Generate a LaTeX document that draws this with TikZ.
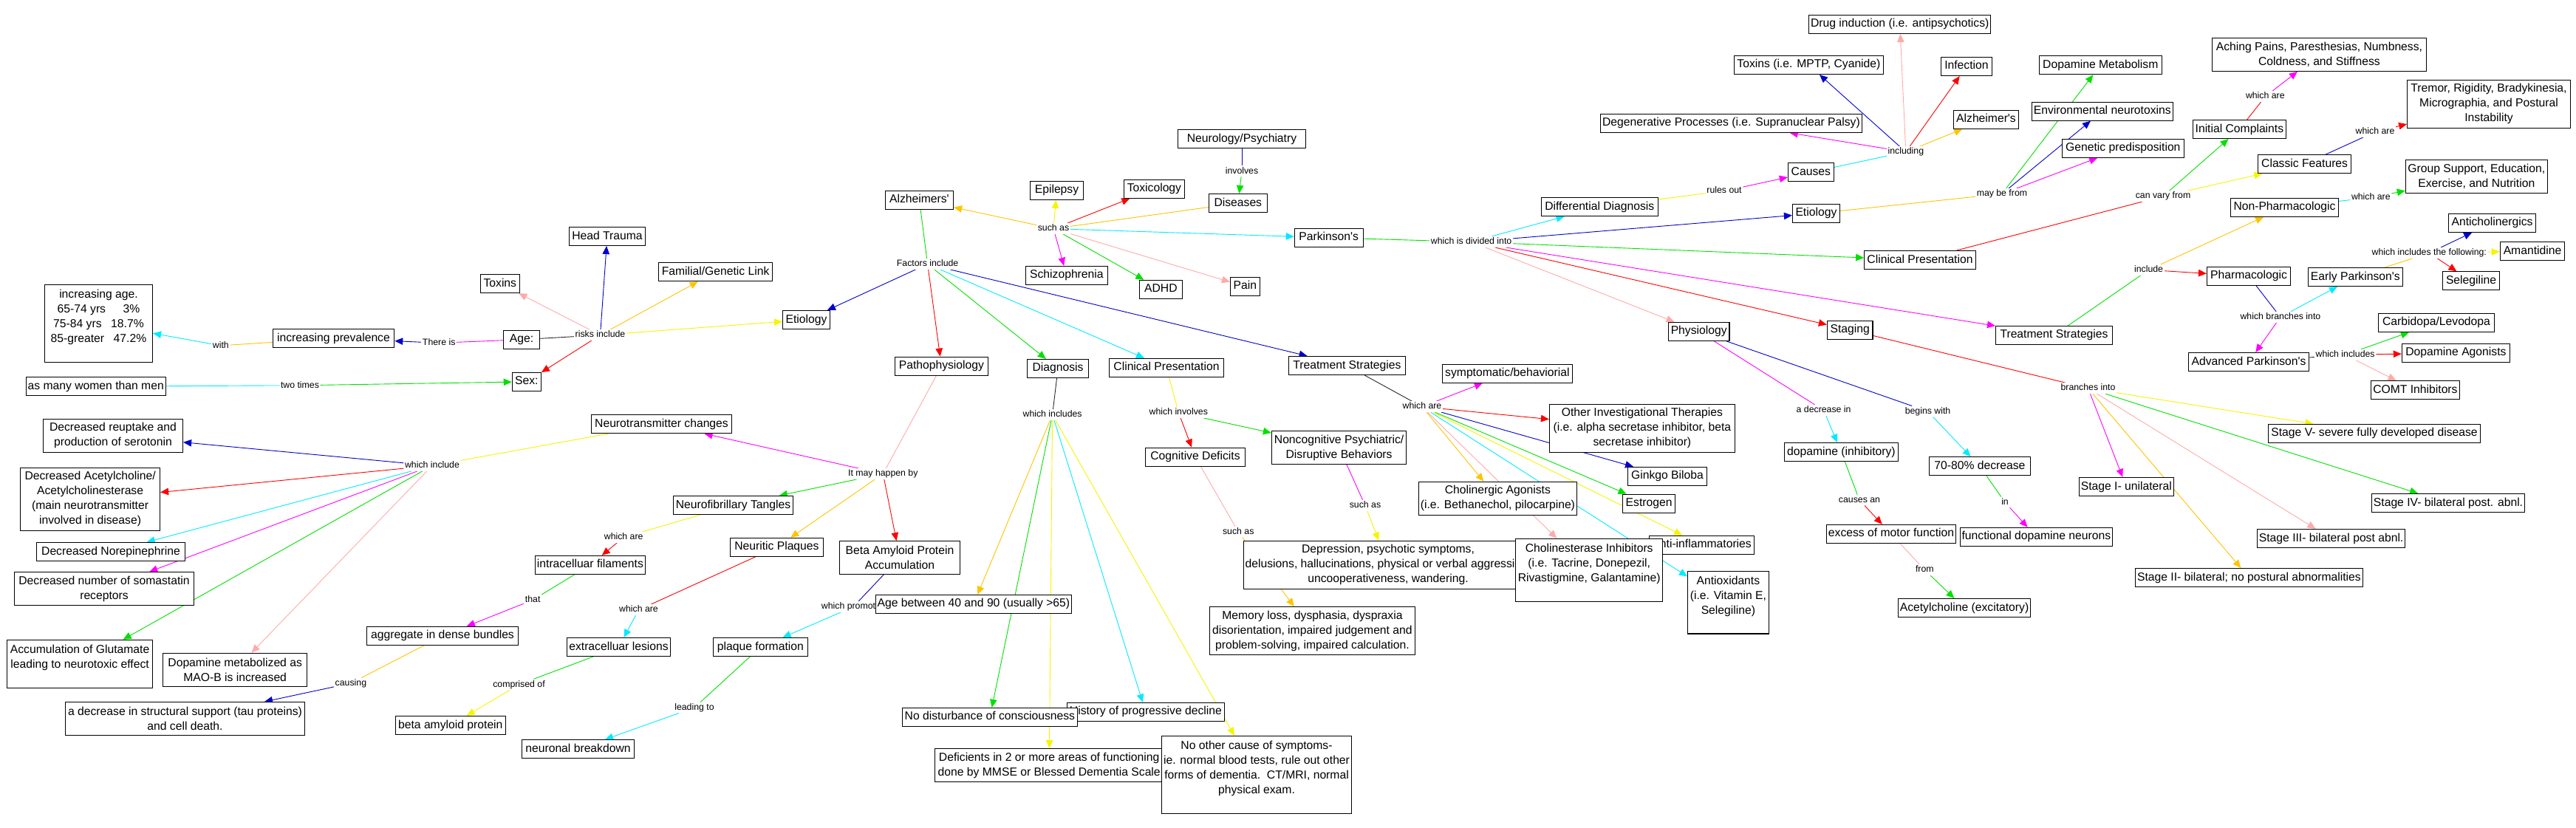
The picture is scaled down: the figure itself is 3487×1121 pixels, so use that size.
\documentclass[tikz,border=0pt]{standalone}
\usepackage{fontspec}
\newfontfamily\mapfont{Liberation Sans}
\usetikzlibrary{arrows.meta}
\pgfdeclarelayer{bg}
\pgfdeclarelayer{lines}
\pgfsetlayers{bg,lines,main}
\definecolor{cred}{RGB}{255,0,0}
\definecolor{cblue}{RGB}{0,0,205}
\definecolor{cgreen}{RGB}{0,225,0}
\definecolor{ccyan}{RGB}{0,235,255}
\definecolor{cmag}{RGB}{255,0,255}
\definecolor{cyel}{RGB}{245,245,0}
\definecolor{corg}{RGB}{255,195,0}
\definecolor{cpink}{RGB}{255,170,170}
\definecolor{cblk}{RGB}{40,40,40}
\newcommand\ap{\textquotesingle}
\tikzset{
 cpt/.style={draw=black, line width=1.1pt, fill=white, font={\mapfont\fontsize{15.7}{20}\selectfont}, align=center, inner xsep=2.5pt, inner ysep=1pt, minimum height=25pt},
 one/.style={text height=11.5pt, text depth=3.5pt},
 bw/.style={minimum width=#1pt},
 bh/.style={minimum height=#1pt},
 lnk/.style={font={\mapfont\fontsize{12.3}{14}\selectfont}, inner sep=1.5pt, fill=white, text height=9pt, text depth=2.5pt},
 con/.style={line width=0.9pt},
 arr/.style={line width=0.9pt, -{Triangle[length=11pt,width=9.5pt]}},
}
\begin{document}
\begin{tikzpicture}[x=1pt,y=-1pt]
\useasboundingbox (0,0) rectangle (3487,1121);
\begin{pgfonlayer}{bg}\fill[white] (0,0) rectangle (3487,1121);\end{pgfonlayer}

% ---------- Alzheimer concepts ----------
\node[cpt,bw=146.1,bh=105] (incage) at (133.5,437.9) {increasing age.\\65-74 yrs\hspace{1.5em}3\%\\75-84 yrs\hspace{0.8em}18.7\%\\85-greater\hspace{0.8em}47.2\%\\\mbox{}};
\node[cpt,one,bw=164.5] (incprev) at (451.5,458) {increasing prevalence};
\node[cpt,one,bw=186.7] (women) at (129.7,523.2) {as many women than men};
\node[cpt,one,bw=52.8] (toxins) at (676.8,384.1) {Toxins};
\node[cpt,one,bw=102.9] (headtr) at (822,320) {Head Trauma};
\node[cpt,one,bw=154.2] (famil) at (968.6,368.2) {Familial/Genetic Link};
\node[cpt,one,bw=49.4] (age) at (706,459.8) {Age:};
\node[cpt,one,bw=39] (sex) at (712.8,516.8) {Sex:};
\node[cpt,one,bw=63.9] (etioA) at (1091.5,433) {Etiology};
\node[cpt,one,bw=92.2] (alz) at (1244.4,270.7) {Alzheimers\ap};
\node[cpt,one,bw=71.9] (epil) at (1430.5,257.9) {Epilepsy};
\node[cpt,one,bw=82.3] (toxic) at (1562.4,255.7) {Toxicology};
\node[cpt,one,bw=173.3] (neuro) at (1681,188) {Neurology/Psychiatry};
\node[cpt,one,bw=78.8] (dis) at (1675.8,275) {Diseases};
\node[cpt,one,bw=111] (schiz) at (1443.9,372.9) {Schizophrenia};
\node[cpt,one,bw=58.1] (adhd) at (1571.4,391.8) {ADHD};
\node[cpt,one,bw=39.8] (pain) at (1685.4,387.9) {Pain};
\node[cpt,one,bw=93] (park) at (1798.7,321.8) {Parkinson\ap s};
\node[cpt,one,bw=126.2] (patho) at (1274.4,495.7) {Pathophysiology};
\node[cpt,one,bw=83.4] (diag) at (1432.1,498.9) {Diagnosis};
\node[cpt,one,bw=155.4] (clinA) at (1579,497.9) {Clinical Presentation};
\node[cpt,one,bw=158.4] (treatA) at (1823.4,495) {Treatment Strategies};

\node[cpt,one,bw=190.2] (ntc) at (895.5,574.1) {Neurotransmitter changes};
\node[cpt,one,bw=162.2] (nft) at (992.5,684) {Neurofibrillary Tangles};
\node[cpt,one,bw=126.3] (np) at (1051.4,740.8) {Neuritic Plaques};
\node[cpt,one,bw=149.2] (intra) at (798.9,764.9) {intracelluar filaments};
\node[cpt,one,bw=205.4] (aggr) at (599,860.9) {aggregate in dense bundles};
\node[cpt,one,bw=140.1] (extra) at (837.5,876.1) {extracelluar lesions};
\node[cpt,one,bw=128.2] (plaque) at (1029.4,876.1) {plaque formation};
\node[cpt,one,bw=149.5] (betaprot) at (609.8,982) {beta amyloid protein};
\node[cpt,one,bw=152.3] (neurbr) at (782.5,1014.1) {neuronal breakdown};
\node[cpt,bw=163.3,bh=44.4] (beta) at (1218,754.9) {Beta Amyloid Protein\\Accumulation};

\node[cpt,bw=189.1,bh=44.9] (decser) at (153,589.9) {Decreased reuptake and\\production of serotonin};
\node[cpt,bw=189,bh=84.8] (decach) at (122.1,675.8) {Decreased Acetylcholine/\\Acetylcholinesterase\\(main neurotransmitter\\involved in disease)};
\node[cpt,one,bw=201.2] (decnor) at (150,747) {Decreased Norepinephrine};
\node[cpt,bw=243,bh=44.9] (decsom) at (141,797) {Decreased number of somastatin\\receptors};
\node[cpt,bw=197,bh=64.9] (glut) at (108.1,898.8) {Accumulation of Glutamate\\leading to neurotoxic effect\\\mbox{}};
\node[cpt,bw=194.8,bh=45.2] (dopmet) at (318.2,906.8) {Dopamine metabolized as\\MAO-B is increased};
\node[cpt,bw=324.1,bh=44.9] (decstr) at (250.5,973) {a decrease in structural support (tau proteins)\\and cell death.};

% labels under boxes first
\node[lnk] (promotes) at (1155,821.6) {which promotes};
\node[cpt,one,bw=265.1] (ageb) at (1317.9,817.9) {Age between 40 and 90 (usually >65)};
\node[cpt,one,bw=213.1] (hist) at (1550.9,963.9) {History of progressive decline};
\node[cpt,one,bw=237.3] (nodist) at (1339.9,970.9) {No disturbance of consciousness};
\node[cpt,bw=310,bh=44.9] (defic) at (1420.2,1036) {Deficients in 2 or more areas of functioning\\done by MMSE or Blessed Dementia Scale};
\node[cpt,bw=257,bh=104.9] (noother) at (1701,1049) {No other cause of symptoms-\\ie. normal blood tests, rule out other\\forms of dementia.\ \ CT/MRI, normal\\physical exam.\\\mbox{}};
\node[cpt,one,bw=135.5] (cogdef) at (1618,618.7) {Cognitive Deficits};
\node[cpt,bw=182.4,bh=44.5] (noncog) at (1812.6,606) {Noncognitive Psychiatric/\\Disruptive Behaviors};
\node[cpt,bw=391,bh=64.9] (depr) at (1879,764.7) {Depression, psychotic symptoms,\\delusions, hallucinations, physical or verbal aggression,\\uncooperativeness, wandering.};
\node[cpt,bw=277.8,bh=64.8] (memory) at (1776.4,854) {Memory loss, dysphasia, dyspraxia\\disorientation, impaired judgement and\\problem-solving, impaired calculation.};
\node[cpt,one,bw=176] (symp) at (2040.4,505.7) {symptomatic/behaviorial};
\node[cpt,bw=250.9,bh=64.9] (other) at (2222.9,579.9) {Other Investigational Therapies\\(i.e. alpha secretase inhibitor, beta\\secretase inhibitor)};
\node[cpt,one,bw=107.1] (ginkgo) at (2257,644.9) {Ginkgo Biloba};
\node[cpt,bw=214.3,bh=45.2] (cholag) at (2027.4,674.9) {Cholinergic Agonists\\(i.e. Bethanechol, pilocarpine)};
\node[cpt,one,bw=71.2] (estro) at (2232.1,681.7) {Estrogen};
\node[cpt,one,bw=142.2] (antiinf) at (2303.6,737.7) {Anti-inflammatories};
\node[cpt,bw=198.6,bh=84.9] (chol) at (2151.2,771.7) {Cholinesterase Inhibitors\\(i.e. Tacrine, Donepezil,\\Rivastigmine, Galantamine)\\\mbox{}};
\node[cpt,bw=109.7,bh=84.5] (antiox) at (2339.4,815.7) {Antioxidants\\(i.e. Vitamin E,\\Selegiline)\\\mbox{}};

% ---------- Parkinson concepts ----------
\node[cpt,one,bw=158] (diffdx) at (2165.3,280) {Differential Diagnosis};
\node[cpt,one,bw=82.5] (physio) at (2299.7,448.9) {Physiology};
\node[cpt,one,bw=354.2] (degen) at (2343.4,166.8) {Degenerative Processes (i.e. Supranuclear Palsy)};
\node[cpt,one,bw=244.9] (drug) at (2571.7,33) {Drug induction (i.e. antipsychotics)};
\node[cpt,one,bw=201.6] (toxP) at (2448.4,88) {Toxins (i.e. MPTP, Cyanide)};
\node[cpt,one,bw=69.2] (infect) at (2661.9,90) {Infection};
\node[cpt,one,bw=88] (alzP) at (2688.5,161.8) {Alzheimer\ap s};
\node[cpt,one,bw=61.9] (causes) at (2451.3,233.2) {Causes};
\node[cpt,one,bw=63.9] (etioP) at (2458.4,288.9) {Etiology};
\node[cpt,one,bw=165.8] (dopmetab) at (2843.3,88.2) {Dopamine Metabolism};
\node[cpt,one,bw=189] (envneuro) at (2845.8,150.7) {Environmental neurotoxins};
\node[cpt,one,bw=164.8] (genpre) at (2873.8,200.7) {Genetic predisposition};
\node[cpt,one,bw=150.7] (clinP) at (2599,352) {Clinical Presentation};
\node[cpt,one,bw=61.6] (staging) at (2504.2,446.8) {Staging};
\node[cpt,one,bw=158] (treatP) at (2780.5,453.9) {Treatment Strategies};
\node[cpt,bw=290.1,bh=44.6] (aching) at (3139.4,74.1) {Aching Pains, Paresthesias, Numbness,\\Coldness, and Stiffness};
\node[cpt,one,bw=126.1] (initc) at (3031.4,175) {Initial Complaints};
\node[cpt,bw=220.8,bh=65.4] (tremor) at (3369,140.9) {Tremor, Rigidity, Bradykinesia,\\Micrographia, and Postural\\Instability};
\node[cpt,one,bw=125.6] (classic) at (3119.6,222.1) {Classic Features};
\node[cpt,bw=191.9,bh=44.6] (group) at (3352.3,239.1) {Group Support, Education,\\Exercise, and Nutrition};
\node[cpt,one,bw=145.8] (nonph) at (3092.4,280.7) {Non-Pharmacologic};
\node[cpt,one,bw=118] (antich) at (3373.5,301.8) {Anticholinergics};
\node[cpt,one,bw=87.6] (amant) at (3428,340) {Amantidine};
\node[cpt,one,bw=113] (pharm) at (3044,373.9) {Pharmacologic};
\node[cpt,one,bw=127.6] (early) at (3188.3,375) {Early Parkinson\ap s};
\node[cpt,one,bw=76.9] (seleg) at (3345,380.4) {Selegiline};
\node[cpt,one,bw=157.3] (carbi) at (3298,436.8) {Carbidopa/Levodopa};
\node[cpt,one,bw=163.4] (adv) at (3044,490) {Advanced Parkinson\ap s};
\node[cpt,one,bw=146.2] (dopag) at (3324.4,477.9) {Dopamine Agonists};
\node[cpt,one,bw=120] (comt) at (3269.4,528.2) {COMT Inhibitors};
\node[cpt,one,bw=154.2] (dopinh) at (2492.4,612) {dopamine (inhibitory)};
\node[cpt,one,bw=137.4] (dec7080) at (2679.9,631.2) {70-80\% decrease};
\node[cpt,one,bw=175.2] (excess) at (2560,722.9) {excess of motor function};
\node[cpt,one,bw=206.2] (funcdop) at (2756.4,726.9) {functional dopamine neurons};
\node[cpt,one,bw=179.1] (acetyl) at (2659,823.1) {Acetylcholine (excitatory)};
\node[cpt,one,bw=127.8] (st1) at (2878.3,659) {Stage I- unilateral};
\node[cpt,one,bw=305.8] (st2) at (3044.4,782) {Stage II- bilateral; no postural abnormalities};
\node[cpt,one,bw=198.3] (st3) at (3155.6,729) {Stage III- bilateral post abnl.};
\node[cpt,one,bw=207.5] (st4) at (3314,681) {Stage IV- bilateral post. abnl.};
\node[cpt,one,bw=287] (st5) at (3214,586.9) {Stage V- severe fully developed disease};

% ---------- linking phrases ----------
\node[lnk] (with) at (298.9,467.9) {with};
\node[lnk] (there) at (594.2,464.3) {There is};
\node[lnk] (twotimes) at (406,521.8) {two times};
\node[lnk] (risks) at (812.5,453.6) {risks include};
\node[lnk] (factors) at (1255.6,357.5) {Factors include};
\node[lnk] (suchas1) at (1426,309.6) {such as};
\node[lnk] (involves) at (1681,231.8) {involves};
\node[lnk] (whichinc1) at (1424.6,561.5) {which includes};
\node[lnk] (whichinv) at (1595.3,558.5) {which involves};
\node[lnk] (mayhappen) at (1195.3,641.5) {It may happen by};
\node[lnk] (whinclude) at (585,630.4) {which include};
\node[lnk] (wanft) at (844.2,727.5) {which are};
\node[lnk] (that) at (721.2,812.3) {that};
\node[lnk] (wanp) at (864.5,825.7) {which are};
\node[lnk] (comprised) at (702.5,926.8) {comprised of};
\node[lnk] (leading) at (940,958) {leading to};
\node[lnk] (causing) at (474.9,925) {causing};
\node[lnk] (suchas2) at (1676.2,720.1) {such as};
\node[lnk] (suchas3) at (1848,684.5) {such as};
\node[lnk] (watr) at (1925,550.7) {which are};
\node[lnk] (divided) at (1991.6,327.5) {which is divided into};
\node[lnk] (rulesout) at (2334,258.6) {rules out};
\node[lnk] (including) at (2579.8,205.7) {including};
\node[lnk] (maybefrom) at (2709.9,262.5) {may be from};
\node[lnk] (canvary) at (2928,265.7) {can vary from};
\node[lnk] (includeP) at (2908.5,365.4) {include};
\node[lnk] (branches) at (2826.5,525.7) {branches into};
\node[lnk] (adecr) at (2468.6,555.5) {a decrease in};
\node[lnk] (begins) at (2609.5,557) {begins with};
\node[lnk] (causesan) at (2517,677.1) {causes an};
\node[lnk] (in) at (2714,680) {in};
\node[lnk] (from) at (2605.3,771.6) {from};
\node[lnk] (wa1) at (3066.3,130.7) {which are};
\node[lnk] (wa2) at (3215,178.6) {which are};
\node[lnk] (wa3) at (3209.3,267.5) {which are};
\node[lnk] (wif) at (3288.3,342.5) {which includes the following:};
\node[lnk] (wbi) at (3086.9,429.3) {which branches into};
\node[lnk] (wi2) at (3174.6,480.4) {which includes};

% ---------- connectors ----------
\begin{pgfonlayer}{lines}
\draw[con,cblk] (age) -- (risks);
\draw[arr,cpink] (risks) -- (toxins);
\draw[arr,cblue] (risks) -- (headtr);
\draw[arr,corg] (risks) -- (famil);
\draw[arr,cyel] (risks) -- (etioA);
\draw[arr,cred] (risks) -- (sex);
\draw[con,cmag] (age) -- (there);
\draw[arr,cblue] (there) -- (incprev);
\draw[con,corg] (incprev) -- (with);
\draw[arr,ccyan] (with) -- (incage);
\draw[con,ccyan] (women) -- (twotimes);
\draw[arr,cgreen] (twotimes) -- (sex);

\draw[con,cgreen] (alz) -- (factors);
\draw[arr,cblue] (factors) -- (etioA);
\draw[arr,cred] (factors) -- (patho);
\draw[arr,cgreen] (factors) -- (diag);
\draw[arr,ccyan] (factors) -- (clinA);
\draw[arr,cblue] (factors) -- (treatA);

\draw[con,cblue] (neuro) -- (involves);
\draw[arr,cgreen] (involves) -- (dis);
\draw[con,corg] (dis) -- (suchas1);
\draw[arr,corg] (suchas1) -- (alz);
\draw[arr,cyel] (suchas1) -- (epil);
\draw[arr,cred] (suchas1) -- (toxic);
\draw[arr,ccyan] (suchas1) -- (park);
\draw[arr,cmag] (suchas1) -- (schiz);
\draw[arr,cgreen] (suchas1) -- (adhd);
\draw[arr,cpink] (suchas1) -- (pain);

\draw[con,cpink] (patho) -- (mayhappen);
\draw[arr,cmag] (mayhappen) -- (ntc);
\draw[arr,cgreen] (mayhappen) -- (nft);
\draw[arr,corg] (mayhappen) -- (np);
\draw[arr,cred] (mayhappen) -- (beta);
\draw[con,cyel] (ntc) -- (whinclude);
\draw[arr,cblue] (whinclude) -- (decser);
\draw[arr,cred] (whinclude) -- (decach);
\draw[arr,ccyan] (whinclude) -- (decnor);
\draw[arr,cmag] (whinclude) -- (decsom);
\draw[arr,cgreen] (whinclude) -- (glut);
\draw[arr,cpink] (whinclude) -- (dopmet);
\draw[con,cyel] (nft) -- (wanft);
\draw[arr,cred] (wanft) -- (intra);
\draw[con,cgreen] (intra) -- (that);
\draw[arr,cmag] (that) -- (aggr);
\draw[con,corg] (aggr) -- (causing);
\draw[arr,cblue] (causing) -- (decstr);
\draw[con,cred] (np) -- (wanp);
\draw[arr,ccyan] (wanp) -- (extra);
\draw[con,cgreen] (extra) -- (comprised);
\draw[arr,cyel] (comprised) -- (betaprot);
\draw[con,cblue] (beta) -- (promotes);
\draw[arr,ccyan] (promotes) -- (plaque);
\draw[con,cgreen] (plaque) -- (leading);
\draw[arr,ccyan] (leading) -- (neurbr);

\draw[con,cblk] (diag) -- (whichinc1);
\draw[arr,corg] (whichinc1) -- (ageb);
\draw[arr,cgreen] (whichinc1) -- (nodist);
\draw[arr,cyel] (whichinc1) -- (defic);
\draw[arr,ccyan] (whichinc1) -- (hist);
\draw[arr,cyel] (whichinc1) -- (noother);
\draw[con,cyel] (clinA) -- (whichinv);
\draw[arr,cred] (whichinv) -- (cogdef);
\draw[arr,cgreen] (whichinv) -- (noncog);
\draw[con,cpink] (cogdef) -- (suchas2);
\draw[arr,corg] (suchas2) -- (memory);
\draw[con,cmag] (noncog) -- (suchas3);
\draw[arr,cyel] (suchas3) -- (depr);
\draw[con,cblk] (treatA) -- (watr);
\draw[arr,cmag] (watr) -- (symp);
\draw[arr,cred] (watr) -- (other);
\draw[arr,cblue] (watr) -- (ginkgo);
\draw[arr,cgreen] (watr) -- (estro);
\draw[arr,cyel] (watr) -- (antiinf);
\draw[arr,ccyan] (watr) -- (antiox);
\draw[arr,cpink] (watr) -- (chol);
\draw[arr,corg] (watr) -- (cholag);

\draw[con,cgreen] (park) -- (divided);
\draw[arr,ccyan] (divided) -- (diffdx);
\draw[arr,cblue] (divided) -- (etioP);
\draw[arr,cgreen] (divided) -- (clinP);
\draw[arr,cmag] (divided) -- (treatP);
\draw[arr,cred] (divided) -- (staging);
\draw[arr,cpink] (divided) -- (physio);
\draw[con,cyel] (diffdx) -- (rulesout);
\draw[arr,cmag] (rulesout) -- (causes);
\draw[con,ccyan] (causes) -- (including);
\draw[arr,cmag] (including) -- (degen);
\draw[arr,cblue] (including) -- (toxP);
\draw[arr,cpink] (including) -- (drug);
\draw[arr,cred] (including) -- (infect);
\draw[arr,corg] (including) -- (alzP);
\draw[con,corg] (etioP) -- (maybefrom);
\draw[arr,cgreen] (maybefrom) -- (dopmetab);
\draw[arr,cblue] (maybefrom) -- (envneuro);
\draw[arr,cmag] (maybefrom) -- (genpre);
\draw[con,cred] (clinP) -- (canvary);
\draw[arr,cgreen] (canvary) -- (initc);
\draw[arr,cyel] (canvary) -- (classic);
\draw[con,cred] (initc) -- (wa1);
\draw[arr,cmag] (wa1) -- (aching);
\draw[con,cblue] (classic) -- (wa2);
\draw[arr,cred] (wa2) -- (tremor);
\draw[con,cgreen] (treatP) -- (includeP);
\draw[arr,corg] (includeP) -- (nonph);
\draw[arr,cred] (includeP) -- (pharm);
\draw[con,ccyan] (nonph) -- (wa3);
\draw[arr,cgreen] (wa3) -- (group);
\draw[con,cblue] (pharm) -- (wbi);
\draw[arr,ccyan] (wbi) -- (early);
\draw[arr,cmag] (wbi) -- (adv);
\draw[con,corg] (early) -- (wif);
\draw[arr,cblue] (wif) -- (antich);
\draw[arr,cyel] (wif) -- (amant);
\draw[arr,cred] (wif) -- (seleg);
\draw[con,cblk] (adv) -- (wi2);
\draw[arr,cgreen] (wi2) -- (carbi);
\draw[arr,cred] (wi2) -- (dopag);
\draw[arr,cpink] (wi2) -- (comt);
\draw[con,cred] (staging) -- (branches);
\draw[arr,cmag] (branches) -- (st1);
\draw[arr,corg] (branches) -- (st2);
\draw[arr,cpink] (branches) -- (st3);
\draw[arr,cgreen] (branches) -- (st4);
\draw[arr,cyel] (branches) -- (st5);
\draw[con,cmag] (physio) -- (adecr);
\draw[arr,ccyan] (adecr) -- (dopinh);
\draw[con,cblue] (physio) -- (begins);
\draw[arr,ccyan] (begins) -- (dec7080);
\draw[con,cgreen] (dopinh) -- (causesan);
\draw[arr,cred] (causesan) -- (excess);
\draw[con,cgreen] (dec7080) -- (in);
\draw[arr,cmag] (in) -- (funcdop);
\draw[con,cpink] (excess) -- (from);
\draw[arr,cgreen] (from) -- (acetyl);
\end{pgfonlayer}
\end{tikzpicture}
\end{document}
